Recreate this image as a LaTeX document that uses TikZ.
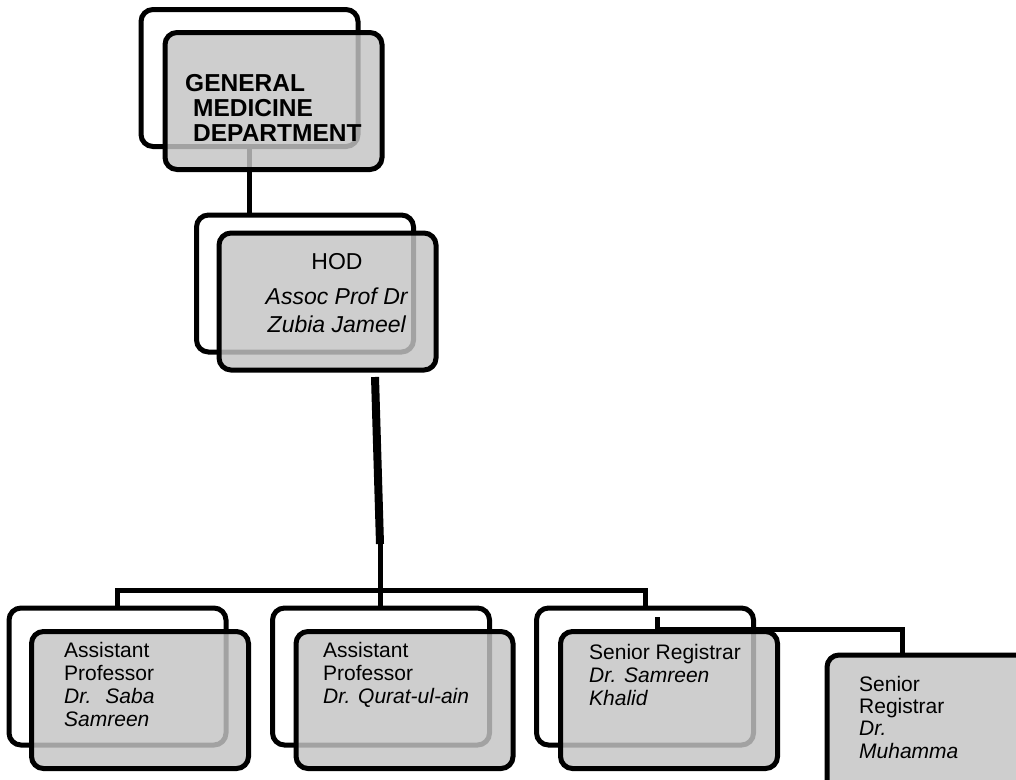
\documentclass[tikz,border=0pt]{standalone}
\usepackage{fontspec}
\setmainfont{Liberation Sans}
\usepackage{tikz}

\definecolor{boxgray}{RGB}{196,196,196}
\tikzset{
  backbox/.style={draw, line width=5pt, rounded corners=12pt, minimum width=217pt, minimum height=137pt, inner sep=0pt},
  frontbox/.style={backbox, fill=boxgray, fill opacity=0.83},
  link/.style={line width=5pt},
  lbl/.style={inner sep=0pt, align=left, font=\fontsize{21}{23}\selectfont}
}

\begin{document}
\begin{tikzpicture}[x=1pt, y=-1pt]
\useasboundingbox (0,0) rectangle (1016,779);
\clip (0,0) rectangle (1016,779);
% organigramma del reparto di medicina generale
\coordinate (hodtail) at (375,377);
\coordinate (kink) at (380,544);
\coordinate (hub) at (380,590);
\coordinate (srtap) at (657,617);

\node[backbox] (deptback) at (249.5,78) {};
\node[backbox] (hodback) at (305,283.5) {};
\node[backbox] (apback1) at (117.5,676.5) {};
\node[backbox] (apback2) at (381,676.5) {};
\node[backbox] (srback) at (645,676.5) {};

\draw[link] (deptback.south) -- (deptback.south |- hodback.north);
\draw[link, line width=8pt] (hodtail) -- (kink);
\draw[link] (kink) -- (hub);
\draw[link] (apback1.north) |- (hub) -| (srback.north);
\draw[link] (hub) -- (hub |- apback2.north);

\node[frontbox] (dept) at (273.5,101) {};
\node[frontbox] (hod) at (327.5,301.5) {};
\node[frontbox] (ap1) at (140,700) {};
\node[frontbox] (ap2) at (404.5,700) {};
\node[frontbox] (sr) at (669,700) {};
\node[frontbox] (sr2) at (935.5,723.5) {};

\draw[link] (srtap) -- (srtap |- sr.north) -| ([xshift=-33.5pt]sr2.north);

% anchor base = baseline of the last line
\node[lbl, anchor=base west, font=\bfseries\fontsize{24.5}{25}\selectfont] (depttxt) at (185,141) {GENERAL\\\hspace*{8pt}MEDICINE\\\hspace*{8pt}DEPARTMENT};
\node[lbl, align=center, anchor=base, font=\fontsize{23}{28}\selectfont] (hodtxt) at (337,332) {HOD\\[7pt]\textit{Assoc Prof Dr}\\\textit{Zubia Jameel}};
\node[lbl, anchor=base west] (ap1txt) at (64,726) {Assistant\\Professor\\\textit{Dr.\hspace{14pt}Saba}\\\textit{Samreen}};
\node[lbl, anchor=base west] (ap2txt) at (323,703) {Assistant\\Professor\\\textit{Dr. Qurat-ul-ain}};
\node[lbl, anchor=base west] (srtxt) at (589,705) {Senior Registrar\\\textit{Dr. Samreen}\\\textit{Khalid}};
\node[lbl, anchor=base west, font=\fontsize{21}{22.3}\selectfont] (sr2txt) at (859,758) {Senior\\Registrar\\\textit{Dr.}\\\textit{Muhamma}};

\end{tikzpicture}
\end{document}
